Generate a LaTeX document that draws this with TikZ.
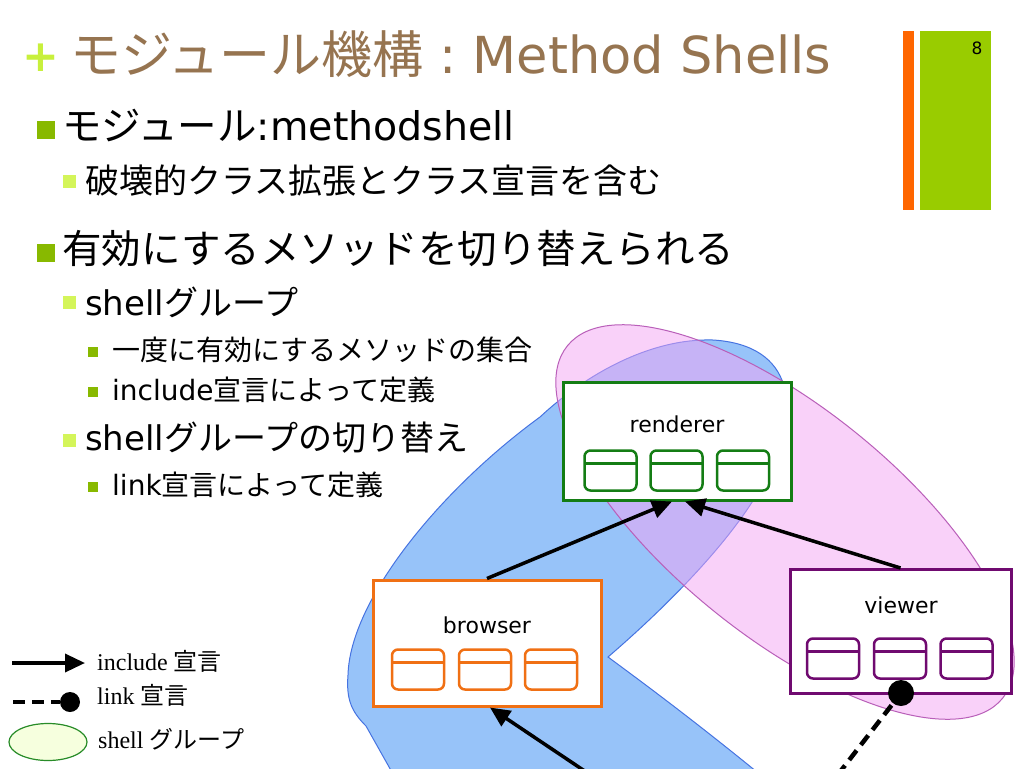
\documentclass[tikz,border=0pt]{standalone}
\usepackage{fontspec}
\setmainfont{DejaVu Sans}
\newfontfamily\jp{Noto Sans CJK JP}
\newfontfamily\legendfont{Liberation Serif}
\usetikzlibrary{arrows.meta,shapes.geometric}
\definecolor{titlebrown}{RGB}{150,116,80}
\definecolor{barorange}{RGB}{255,102,0}
\definecolor{bargreen}{RGB}{153,204,0}
\definecolor{bulletgreen}{RGB}{136,185,0}
\definecolor{bulletlime}{RGB}{212,245,90}
\definecolor{plusgreen}{RGB}{200,240,60}
\definecolor{rendgreen}{RGB}{20,125,20}
\definecolor{browsorange}{RGB}{240,112,20}
\definecolor{viewpurple}{RGB}{112,10,112}
\definecolor{shellblue}{RGB}{151,195,249}
\definecolor{shellblueline}{RGB}{70,115,225}
\definecolor{shellpink}{RGB}{245,165,245}
\definecolor{shellpinkline}{RGB}{185,95,185}
\definecolor{legendfill}{RGB}{246,255,222}
\definecolor{legendline}{RGB}{40,140,40}
\begin{document}
\begin{tikzpicture}[x=1pt, y=-1pt,
  box/.style={draw=#1, fill=white, line width=3pt, inner sep=0pt},
  slot/.style={draw=#1, line width=2.5pt, rounded corners=6pt, minimum width=52pt, minimum height=40pt, inner sep=0pt,
    path picture={\draw[#1, line width=2.5pt] ([yshift=-13pt]path picture bounding box.north west) -- ([yshift=-13pt]path picture bounding box.north east);}},
  boxlabel/.style={anchor=base, inner sep=0pt, font=\fontsize{22}{26}\selectfont},
  line/.style={anchor=base west, inner sep=0pt, font=\fontsize{#1}{#1}\selectfont},
  bulletA/.style={fill=bulletgreen, minimum size=18pt, inner sep=0pt},
  bulletB/.style={fill=bulletlime, minimum size=13pt, inner sep=0pt},
  bulletC/.style={fill=bulletgreen, minimum size=10pt, inner sep=0pt},
  includearrow/.style={line width=3.5pt, -{Triangle[length=20pt, width=18pt]}},
  linkline/.style={line width=4.5pt, dash pattern=on 12pt off 7pt},
  linkdot/.style={circle, fill=black, minimum size=26pt, inner sep=0pt},
  legendtext/.style={anchor=base west, inner sep=0pt, font=\legendfont\fontsize{24}{28}\selectfont}]
\useasboundingbox (0,0) rectangle (1024,768);
\clip (0,0) rectangle (1024,768);
\fill[white] (0,0) rectangle (1024,768);
% title and page bars
\node[text=plusgreen, font=\bfseries\fontsize{44}{44}\selectfont] (plus) at (41,58) {+};
\node[line=51, text=titlebrown] (title) at (70,73) {{\jp モジュール機構}\hspace{16pt}:\hspace{16pt}Method Shells};
\fill[barorange] (903,31) rectangle (914,210);
\fill[bargreen] (920,31) rectangle (991,210);
\node[font=\fontsize{17}{20}\selectfont] (pageno) at (977,48) {8};
% bullet text
\node[bulletA] (b1) at (46,130) {};
\node[line=39.5] (t1) at (62,140) {{\jp モジュール}:methodshell};
\node[bulletB] (b2) at (69,181) {};
\node[line=34] (t2) at (85,193) {\jp 破壊的クラス拡張とクラス宣言を含む};
\node[bulletA] (b3) at (46,253) {};
\node[line=39.5] (t3) at (62,263) {\jp 有効にするメソッドを切り替えられる};
\node[bulletB] (b4) at (69,302) {};
\node[line=34] (t4) at (85,315) {shell{\jp グループ}};
\node[bulletC] (b5) at (93,352) {};
\node[line=28] (t5) at (112,360) {\jp 一度に有効にするメソッドの集合};
\node[bulletC] (b6) at (93,392) {};
\node[line=28] (t6) at (112,400) {include{\jp 宣言によって定義}};
\node[bulletB] (b7) at (69,440) {};
\node[line=34] (t7) at (85,450) {shell{\jp グループの切り替え}};
\node[bulletC] (b8) at (93,487) {};
\node[line=28] (t8) at (112,495) {link{\jp 宣言によって定義}};
% shell groups
\filldraw[fill=shellblue, draw=shellblueline, line width=1pt]
  (608,657) .. controls (680,595) and (745,525) .. (770,470)
  .. controls (800,410) and (795,345) .. (713,340)
  .. controls (650,338) and (585,375) .. (540,417)
  .. controls (440,490) and (350,600) .. (348,675)
  .. controls (346,700) and (352,712) .. (366,726)
  -- (402,790) -- (779,790)
  .. controls (700,725) and (650,688) .. cycle;
\filldraw[fill=shellpink, fill opacity=0.5, draw=shellpinkline, line width=1pt,
  rotate around={-39:(785,522)}] (785,522) ellipse (280pt and 114pt);
% modules
\node[box=rendgreen, minimum width=228pt, minimum height=118pt] (renderer) at (677,441) {};
\node[boxlabel] (rendlabel) at (677,432) {renderer};
\node[slot=rendgreen] (rslot1) at (610.5,470.5) {};
\node[slot=rendgreen] (rslot2) at (676.5,470.5) {};
\node[slot=rendgreen] (rslot3) at (743,470.5) {};
\node[box=browsorange, minimum width=228pt, minimum height=126pt] (browser) at (487,643) {};
\node[boxlabel] (browlabel) at (487,633) {browser};
\node[slot=browsorange] (bslot1) at (418,669.5) {};
\node[slot=browsorange] (bslot2) at (485,669.5) {};
\node[slot=browsorange] (bslot3) at (551,669.5) {};
\node[box=viewpurple, minimum width=221pt, minimum height=124pt] (viewer) at (900.5,631.5) {};
\node[boxlabel] (viewlabel) at (901,613) {viewer};
\node[slot=viewpurple] (vslot1) at (833,658.5) {};
\node[slot=viewpurple] (vslot2) at (900,658.5) {};
\node[slot=viewpurple] (vslot3) at (966.5,658.5) {};
% include and link
\draw[includearrow] (browser.north) -- ([xshift=-5pt]renderer.south);
\draw[includearrow] (viewer.north) -- ([xshift=8pt]renderer.south);
\coordinate (incfrom) at (613,790);
\draw[includearrow] (incfrom) -- ([xshift=3pt]browser.south);
\node[linkdot] (vdot) at (901,693) {};
\coordinate (linkfrom) at (826,790);
\draw[linkline] (linkfrom) -- (vdot);
% legend
\coordinate (incA) at (12,663);
\coordinate (incB) at (85,663);
\draw[includearrow] (incA) -- (incB);
\node[legendtext] (inctext) at (97,670) {include {\jp 宣言}};
\coordinate (linkA) at (13,702);
\node[linkdot, minimum size=20pt] (ldot) at (70,702) {};
\draw[linkline] (linkA) -- (ldot);
\node[legendtext] (linktext) at (97,704) {link {\jp 宣言}};
\node[ellipse, draw=legendline, fill=legendfill, line width=1.2pt, minimum width=78pt, minimum height=37pt, inner sep=0pt] (shellkey) at (48,742) {};
\node[legendtext] (shelltext) at (98,748) {shell {\jp グループ}};
\end{tikzpicture}
\end{document}
